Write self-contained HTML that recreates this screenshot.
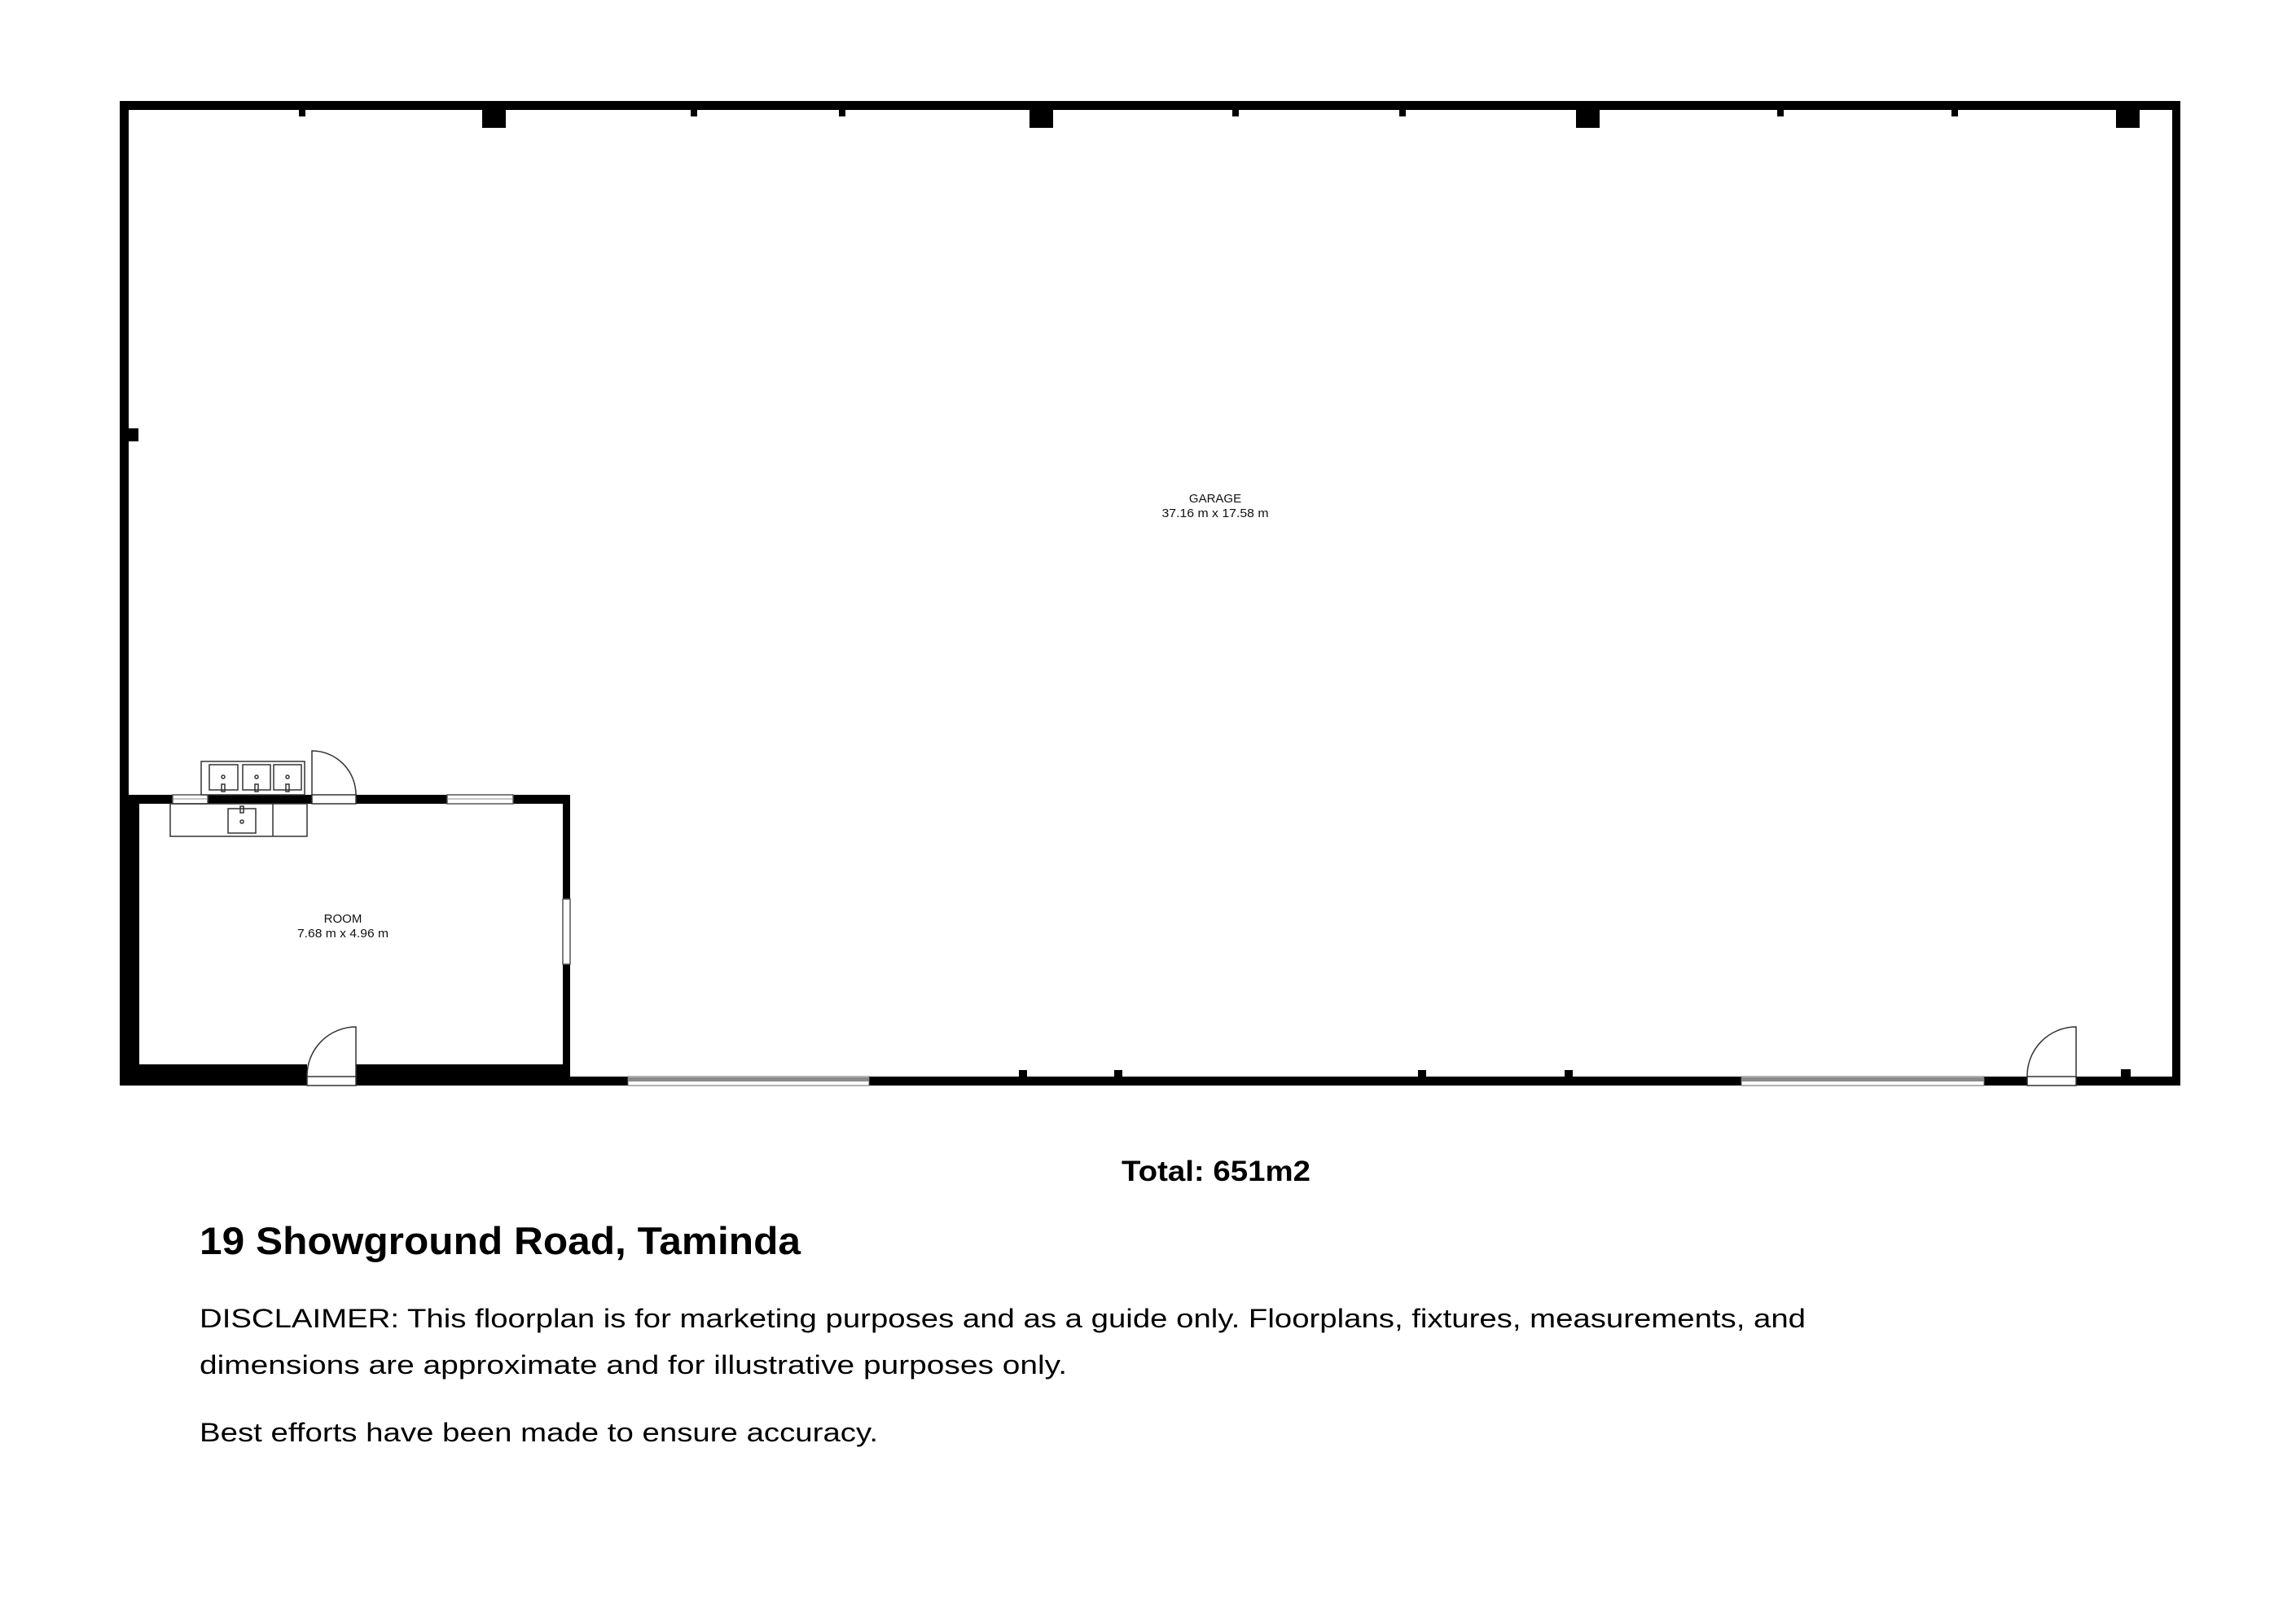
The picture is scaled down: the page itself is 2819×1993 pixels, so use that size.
<!DOCTYPE html>
<html><head><meta charset="utf-8"><style>
html,body{margin:0;padding:0;background:#fff;}
svg{display:block;}
</style></head><body>
<svg width="2819" height="1993" viewBox="0 0 2819 1993" xmlns="http://www.w3.org/2000/svg" font-family="Liberation Sans, Arial, sans-serif">
<rect width="2819" height="1993" fill="#fff"/>
<!-- outer garage walls -->
<rect x="147" y="124" width="2530" height="11" fill="#000"/>
<rect x="147" y="124" width="11" height="860" fill="#000"/>
<rect x="2667" y="124" width="10" height="1209" fill="#000"/>
<rect x="691" y="1322" width="1986" height="11" fill="#000"/>
<!-- top pillars -->
<rect x="592" y="124" width="29" height="33" fill="#000"/>
<rect x="1264" y="124" width="29" height="33" fill="#000"/>
<rect x="1935" y="124" width="29" height="33" fill="#000"/>
<rect x="2598" y="124" width="29" height="33" fill="#000"/>
<g fill="#000">
<rect x="367" y="124" width="8" height="19"/>
<rect x="848" y="124" width="8" height="19"/>
<rect x="1030" y="124" width="8" height="19"/>
<rect x="1513" y="124" width="8" height="19"/>
<rect x="1718" y="124" width="8" height="19"/>
<rect x="2182" y="124" width="8" height="19"/>
<rect x="2396" y="124" width="8" height="19"/>
<rect x="158" y="526" width="12" height="16"/>
<!-- bottom ticks -->
<rect x="1251" y="1314" width="10" height="19"/>
<rect x="1368" y="1314" width="10" height="19"/>
<rect x="1741" y="1314" width="10" height="19"/>
<rect x="1921" y="1314" width="10" height="19"/>
<rect x="2604" y="1313" width="12" height="20"/>
</g>
<!-- bottom windows -->
<g>
<rect x="771" y="1322" width="296" height="11" fill="#fff" stroke="#666" stroke-width="1"/>
<rect x="771" y="1323" width="296" height="5" fill="#8a8a8a"/>
<rect x="2138" y="1322" width="298" height="11" fill="#fff" stroke="#666" stroke-width="1"/>
<rect x="2138" y="1323" width="298" height="5" fill="#8a8a8a"/>
</g>
<!-- garage door bottom right -->
<rect x="2489" y="1322" width="60" height="11" fill="#fff" stroke="#333" stroke-width="1.5"/>
<path d="M2549 1322 V1261 A60 60 0 0 0 2489 1322" fill="none" stroke="#333" stroke-width="1.5"/>
<!-- room walls -->
<rect x="147" y="976" width="553" height="11" fill="#000"/>
<rect x="147" y="976" width="24" height="357" fill="#000"/>
<rect x="691" y="976" width="9" height="357" fill="#000"/>
<rect x="147" y="1307" width="553" height="26" fill="#000"/>
<!-- room top windows -->
<rect x="212" y="976" width="43" height="11" fill="#fff" stroke="#555" stroke-width="1.5"/>
<line x1="212" y1="981" x2="255" y2="981" stroke="#888" stroke-width="1"/>
<rect x="549" y="976" width="81" height="11" fill="#fff" stroke="#555" stroke-width="1.5"/>
<line x1="549" y1="981" x2="630" y2="981" stroke="#888" stroke-width="1"/>
<!-- room top door -->
<rect x="383" y="976" width="54" height="11" fill="#fff" stroke="#333" stroke-width="1.5"/>
<path d="M383 976 V922 A54 54 0 0 1 437 976" fill="none" stroke="#333" stroke-width="1.5"/>
<!-- sinks above -->
<g fill="none" stroke="#333" stroke-width="1.5">
<rect x="247" y="935" width="127" height="41" fill="#fff"/>
<rect x="257" y="939" width="35" height="31"/>
<rect x="298" y="939" width="34" height="31"/>
<rect x="336" y="939" width="34" height="31"/>
<circle cx="274" cy="954" r="2"/>
<circle cx="315" cy="954" r="2"/>
<circle cx="353" cy="954" r="2"/>
<rect x="272" y="963" width="4" height="9"/>
<rect x="313" y="963" width="4" height="9"/>
<rect x="351" y="963" width="4" height="9"/>
<!-- counter inside -->
<rect x="209" y="987" width="168" height="40"/>
<line x1="335" y1="987" x2="335" y2="1027"/>
<rect x="280" y="993" width="34" height="30"/>
<circle cx="297" cy="1009" r="2"/>
<rect x="295" y="990" width="4" height="8"/>
</g>
<!-- right wall window -->
<rect x="691" y="1104" width="9" height="80" fill="#fff" stroke="#555" stroke-width="1.5"/>
<!-- room bottom door -->
<rect x="377" y="1307" width="60" height="26" fill="#fff"/>
<rect x="377" y="1322" width="60" height="11" fill="#fff" stroke="#333" stroke-width="1.5"/>
<path d="M437 1322 V1261 A60 60 0 0 0 377 1322" fill="none" stroke="#333" stroke-width="1.5"/>
<!-- labels -->
<g fill="#111" text-anchor="middle" font-size="15">
<text x="1492" y="617">GARAGE</text>
<text x="1492" y="635" textLength="131" lengthAdjust="spacingAndGlyphs">37.16 m x 17.58 m</text>
<text x="421" y="1133">ROOM</text>
<text x="421" y="1151" textLength="112" lengthAdjust="spacingAndGlyphs">7.68 m x 4.96 m</text>
</g>
<g fill="#000">
<text x="1377" y="1450" font-size="35" font-weight="bold" textLength="232" lengthAdjust="spacingAndGlyphs">Total: 651m2</text>
<text x="245" y="1540" font-size="47" font-weight="bold" textLength="738" lengthAdjust="spacingAndGlyphs">19 Showground Road, Taminda</text>
<text x="245" y="1630" font-size="32" textLength="1972" lengthAdjust="spacingAndGlyphs">DISCLAIMER: This floorplan is for marketing purposes and as a guide only. Floorplans, fixtures, measurements, and</text>
<text x="245" y="1687" font-size="32" textLength="1065" lengthAdjust="spacingAndGlyphs">dimensions are approximate and for illustrative purposes only.</text>
<text x="245" y="1770" font-size="32" textLength="833" lengthAdjust="spacingAndGlyphs">Best efforts have been made to ensure accuracy.</text>
</g>
</svg>
</body></html>
